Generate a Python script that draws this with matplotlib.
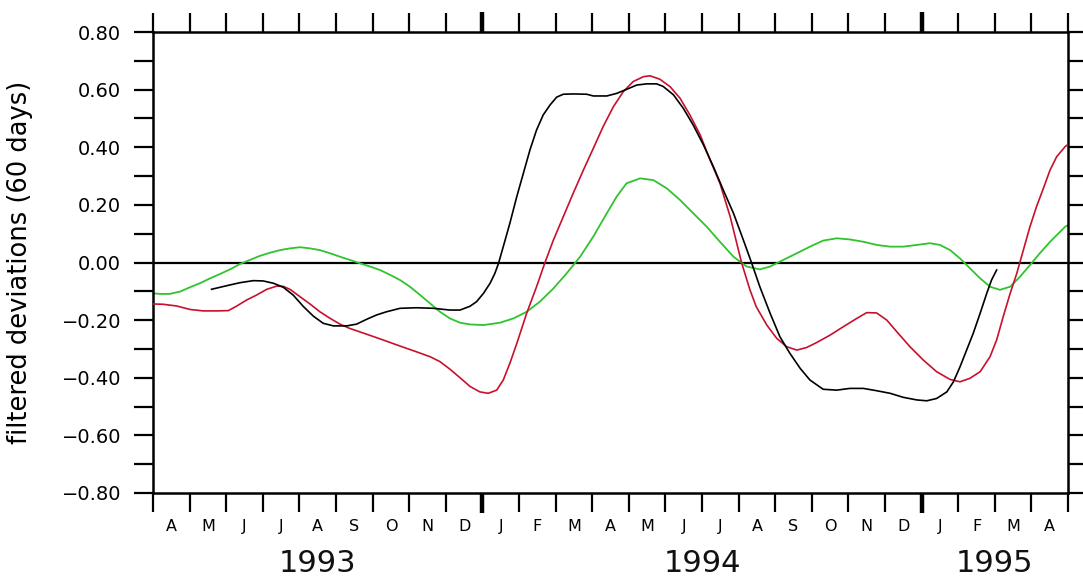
"""Filtered (60-day) deviation series, Apr 1993 - Apr 1995."""

import matplotlib

matplotlib.use("Agg")

import matplotlib.pyplot as plt
import matplotlib.transforms as mtransforms
import numpy as np

SAVE_FIG = "out.png"

# month labels, first month is April 1993
MONTH_LABELS = ["A", "M", "J", "J", "A", "S", "O", "N", "D",
                "J", "F", "M", "A", "M", "J", "J", "A", "S", "O", "N", "D",
                "J", "F", "M", "A"]
YEARS = ["1993", "1994", "1995"]
YEAR_START = [0, 9, 21]  # month index where each year begins

# x values are months elapsed since 1 April 1993
black_month = [1.60, 1.83, 2.10, 2.38, 2.74, 3.01, 3.29, 3.56, 3.83, 4.11,
               4.38, 4.65, 4.93, 5.29, 5.56, 5.84, 6.11, 6.38, 6.75, 7.20,
               7.66, 8.11, 8.39, 8.66, 8.84, 9.03, 9.21, 9.34, 9.44, 9.57,
               9.75, 9.94, 10.12, 10.30, 10.48, 10.66, 10.85, 11.03, 11.21,
               11.48, 11.85, 12.03, 12.40, 12.67, 12.94, 13.22, 13.49, 13.76,
               13.94, 14.22, 14.49, 14.76, 15.04, 15.31, 15.58, 15.86, 16.13,
               16.36, 16.58, 16.86, 17.13, 17.40, 17.68, 17.95, 18.31, 18.68,
               19.04, 19.41, 19.77, 20.14, 20.50, 20.87, 21.14, 21.41, 21.69,
               21.87, 22.05, 22.23, 22.41, 22.60, 22.78, 22.91, 23.05]
black_value = [-0.093, -0.086, -0.078, -0.070, -0.063, -0.064, -0.072,
               -0.086, -0.113, -0.153, -0.186, -0.211, -0.220, -0.220, -0.214,
               -0.197, -0.182, -0.171, -0.159, -0.157, -0.159, -0.165, -0.165,
               -0.152, -0.136, -0.107, -0.072, -0.038, -0.003, 0.055, 0.136,
               0.229, 0.310, 0.391, 0.460, 0.512, 0.547, 0.574, 0.584, 0.585,
               0.584, 0.578, 0.578, 0.587, 0.601, 0.616, 0.620, 0.620, 0.611,
               0.582, 0.535, 0.477, 0.408, 0.333, 0.252, 0.171, 0.078, -0.003,
               -0.084, -0.176, -0.258, -0.315, -0.367, -0.408, -0.440, -0.443,
               -0.437, -0.437, -0.445, -0.454, -0.468, -0.477, -0.480, -0.472,
               -0.449, -0.414, -0.362, -0.304, -0.246, -0.176, -0.107, -0.061,
               -0.026]

red_month = [0.0, 0.28, 0.65, 1.01, 1.37, 1.74, 2.06, 2.29, 2.56, 2.83, 3.11,
             3.38, 3.56, 3.74, 4.02, 4.29, 4.56, 4.84, 5.11, 5.38, 5.84, 6.29,
             6.75, 7.20, 7.57, 7.84, 8.11, 8.39, 8.66, 8.93, 9.16, 9.39, 9.57,
             9.75, 9.94, 10.21, 10.48, 10.71, 10.94, 11.21, 11.48, 11.76,
             12.03, 12.30, 12.58, 12.85, 13.12, 13.40, 13.58, 13.85, 14.13,
             14.40, 14.67, 14.95, 15.22, 15.49, 15.77, 16.08, 16.31, 16.48,
             16.77, 17.04, 17.31, 17.59, 17.86, 18.13, 18.50, 18.86, 19.23,
             19.50, 19.77, 20.05, 20.32, 20.68, 21.05, 21.41, 21.78, 22.05,
             22.32, 22.60, 22.87, 23.05, 23.23, 23.42, 23.60, 23.78, 23.96,
             24.14, 24.33, 24.51, 24.69, 24.92, 25.0]
red_value = [-0.144, -0.145, -0.151, -0.163, -0.168, -0.168, -0.167, -0.151,
             -0.130, -0.113, -0.093, -0.082, -0.083, -0.093, -0.119, -0.144,
             -0.171, -0.194, -0.214, -0.229, -0.249, -0.269, -0.290, -0.310,
             -0.327, -0.344, -0.370, -0.400, -0.430, -0.449, -0.454, -0.443,
             -0.408, -0.350, -0.281, -0.176, -0.084, 0.0, 0.078, 0.159, 0.240,
             0.321, 0.396, 0.472, 0.541, 0.593, 0.628, 0.645, 0.648, 0.636,
             0.610, 0.570, 0.512, 0.443, 0.356, 0.275, 0.159, 0.0, -0.095,
             -0.153, -0.217, -0.263, -0.292, -0.304, -0.295, -0.278, -0.252,
             -0.223, -0.194, -0.174, -0.175, -0.200, -0.240, -0.292, -0.339,
             -0.379, -0.406, -0.414, -0.402, -0.379, -0.327, -0.269, -0.188,
             -0.107, -0.038, 0.043, 0.124, 0.194, 0.258, 0.321, 0.367, 0.402,
             0.41]

green_month = [0.0, 0.19, 0.46, 0.74, 1.01, 1.28, 1.56, 1.83, 2.10, 2.38,
               2.65, 2.92, 3.20, 3.47, 3.74, 4.02, 4.29, 4.56, 4.84, 5.11,
               5.38, 5.66, 5.93, 6.20, 6.48, 6.75, 7.02, 7.30, 7.57, 7.84,
               8.11, 8.39, 8.66, 9.03, 9.48, 9.85, 10.21, 10.57, 10.94, 11.30,
               11.67, 12.03, 12.40, 12.67, 12.94, 13.31, 13.67, 14.03, 14.40,
               14.76, 15.13, 15.49, 15.86, 16.22, 16.58, 16.86, 17.22, 17.59,
               17.95, 18.31, 18.68, 19.04, 19.41, 19.77, 20.14, 20.50, 20.87,
               21.23, 21.50, 21.78, 22.05, 22.32, 22.60, 22.87, 23.14, 23.42,
               23.69, 23.96, 24.23, 24.51, 24.92, 25.0]
green_value = [-0.107, -0.109, -0.109, -0.101, -0.086, -0.072, -0.055, -0.040,
               -0.024, -0.005, 0.009, 0.023, 0.034, 0.043, 0.049, 0.053, 0.049,
               0.043, 0.032, 0.020, 0.009, -0.003, -0.014, -0.026, -0.043,
               -0.061, -0.084, -0.113, -0.142, -0.171, -0.194, -0.209, -0.215,
               -0.217, -0.209, -0.194, -0.171, -0.136, -0.090, -0.038, 0.020,
               0.090, 0.171, 0.229, 0.275, 0.292, 0.286, 0.258, 0.217, 0.171,
               0.124, 0.072, 0.020, -0.014, -0.024, -0.014, 0.009, 0.032, 0.055,
               0.076, 0.084, 0.080, 0.072, 0.061, 0.055, 0.055, 0.061, 0.067,
               0.061, 0.043, 0.014, -0.020, -0.055, -0.084, -0.095, -0.084,
               -0.049, -0.009, 0.032, 0.072, 0.124, 0.13]


def main():
    plt.rcParams["font.family"] = "DejaVu Sans"
    fig = plt.figure(figsize=(10.83, 5.78), dpi=100)
    W, H = 1083, 578
    ax = fig.add_axes([153 / W, 1 - 493 / H, 915 / W, 461 / H])

    n_months = len(MONTH_LABELS)
    ax.set_xlim(0, n_months)
    ax.set_ylim(-0.8, 0.8)

    ax.axhline(0, color="black", linewidth=1.6, zorder=1)
    ax.plot(green_month, green_value, color="#2fc42f", linewidth=1.3, zorder=2)
    ax.plot(red_month, red_value, color="#c8102e", linewidth=1.2, zorder=3)
    ax.plot(black_month, black_value, color="black", linewidth=1.2, zorder=4)

    for side in ax.spines.values():
        side.set_linewidth(1.8)

    # month boundaries as ticks, letters centred in each month
    ax.set_xticks(np.arange(0, n_months + 1))
    ax.set_xticklabels([])
    ax.set_xticks(np.arange(n_months) + 0.5, minor=True)
    ax.set_xticklabels(MONTH_LABELS, minor=True, fontsize=11.5)
    ax.tick_params(axis="x", which="major", direction="out", length=14,
                   width=1.6, top=True, bottom=True)
    ax.tick_params(axis="x", which="minor", length=0, pad=19, top=False)

    # heavier ticks at the turn of each year
    for m in YEAR_START[1:]:
        for y0, y1 in [(1.0, 1.043), (0.0, -0.043)]:
            ax.plot([m, m], [y0, y1], transform=ax.get_xaxis_transform(),
                    color="black", linewidth=3.2, clip_on=False,
                    solid_capstyle="butt")

    yticks = np.arange(-4, 5) * 0.2
    ax.set_yticks(yticks)
    ax.set_yticklabels([f"{v:.2f}".replace("-", "\u2212") for v in yticks],
                       fontsize=14)
    ax.set_yticks(np.arange(-3.5, 4, 1) * 0.2, minor=True)
    ax.tick_params(axis="y", which="both", direction="out", length=14,
                   width=1.6, left=True, right=True, pad=9)

    ax.set_ylabel("filtered deviations (60 days)", fontsize=18.5)
    ax.yaxis.set_label_coords(-0.131, 0.5)

    trans = mtransforms.blended_transform_factory(ax.transData, fig.transFigure)
    bounds = YEAR_START + [n_months]
    for i, year in enumerate(YEARS):
        mid = (bounds[i] + bounds[i + 1]) / 2
        ax.text(mid, 1 - 563 / H, year, transform=trans, fontsize=22,
                ha="center", va="center", color="#111111")

    fig.savefig(SAVE_FIG, dpi=100)
    plt.close(fig)


if __name__ == "__main__":
    main()
